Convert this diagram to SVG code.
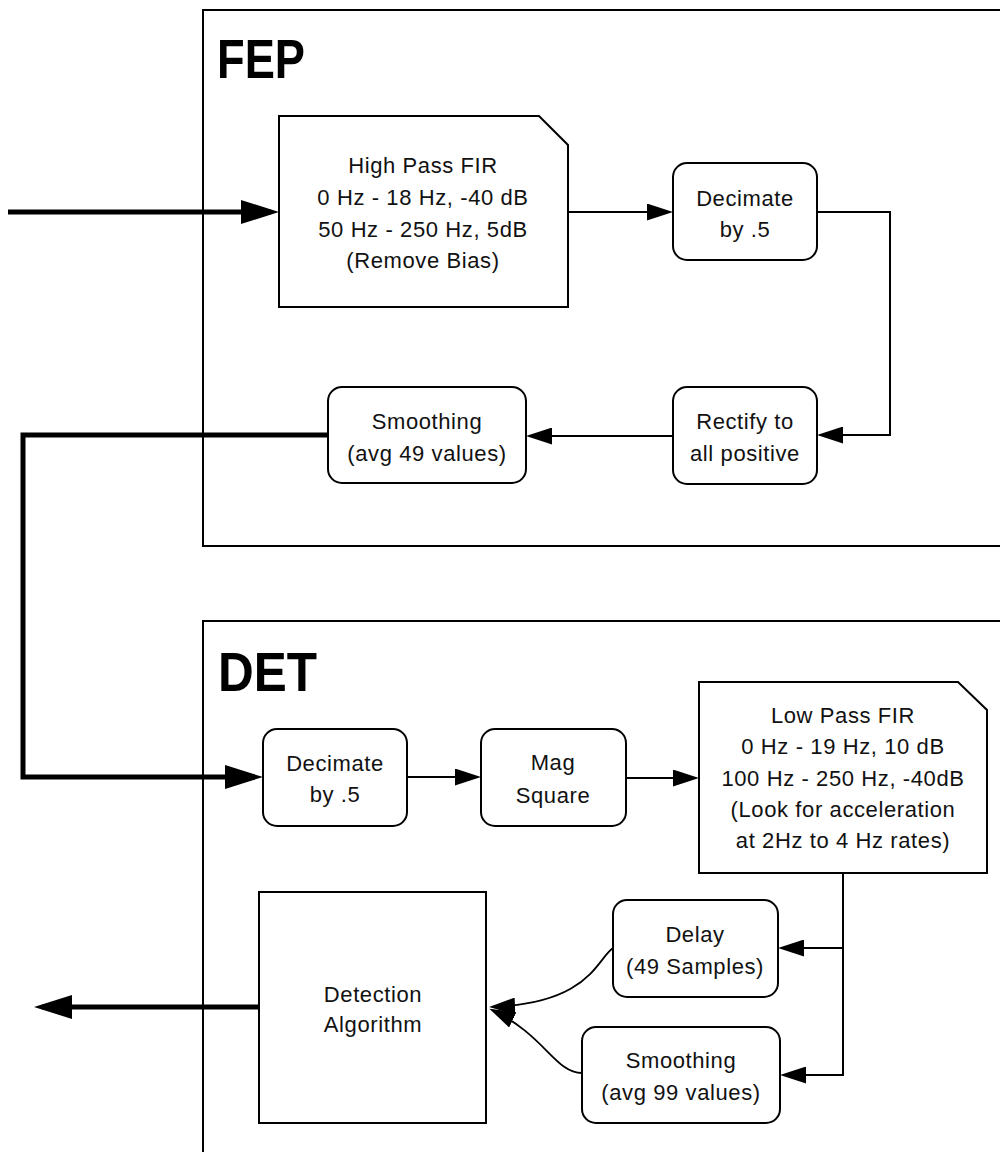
<svg xmlns="http://www.w3.org/2000/svg" width="1000" height="1152" viewBox="0 0 1000 1152">
<style>
.frame{fill:none;stroke:#000;stroke-width:2}
.box{fill:#fff;stroke:#000;stroke-width:2}
.t{font-family:"Liberation Sans",Arial,sans-serif;font-size:22px;letter-spacing:0.6px;text-anchor:middle;fill:#111}
.title{font-family:"Liberation Sans",Arial,sans-serif;font-size:56px;font-weight:bold;fill:#000}
.thin{fill:none;stroke:#000;stroke-width:2;marker-end:url(#ah)}
.thick{fill:none;stroke:#000;stroke-width:5;stroke-linejoin:miter;marker-end:url(#ahb)}
.curve{fill:none;stroke:#000;stroke-width:1.8;marker-end:url(#ah)}
</style>
<defs>
<marker id="ah" markerUnits="userSpaceOnUse" markerWidth="26" markerHeight="17" viewBox="0 0 26 17" refX="23" refY="8.5" orient="auto">
<path d="M0,0 L26,8.5 L0,17 z" fill="#000"/>
</marker>
<marker id="ahb" markerUnits="userSpaceOnUse" markerWidth="38" markerHeight="24" viewBox="0 0 38 24" refX="30" refY="12" orient="auto">
<path d="M0,0 L38,12 L0,24 z" fill="#000"/>
</marker>
</defs>
<rect fill="#fff" x="0" y="0" width="1000" height="1152"/>
<g id="fep">
<rect class="frame" x="203" y="10" width="900" height="536"/>
<text class="title" x="217" y="78" textLength="88" lengthAdjust="spacingAndGlyphs">FEP</text>
</g>
<g id="det">
<rect class="frame" x="203" y="621" width="900" height="600"/>
<text class="title" x="218" y="691" textLength="99" lengthAdjust="spacingAndGlyphs">DET</text>
</g>
<g id="connectors">
<path class="thick" d="M8,212 H271"/>
<path class="thin" d="M568,212 H670"/>
<path class="thin" d="M817,212 H890 V435 H820"/>
<path class="thin" d="M673,436 H529"/>
<path class="thick" d="M328,435 H23 V777 H255"/>
<path class="thin" d="M407,777 H478"/>
<path class="thin" d="M626,778 H696"/>
<path class="thin" d="M843,873 V1075 H783"/>
<path class="thin" d="M843,948 H781"/>
<path class="curve" d="M613,948 C596,960 590,1003 492,1007"/>
<path class="curve" d="M582,1073 C555,1073 545,1035 492,1010"/>
<path class="thick" d="M259,1007 H42"/>
</g>
<g id="hpf">
<path class="box" d="M279,116 H539 L568,145 V307 H279 Z"/>
<text class="t" x="423" y="173">High Pass FIR</text>
<text class="t" x="423" y="205">0 Hz - 18 Hz, -40 dB</text>
<text class="t" x="423" y="237">50 Hz - 250 Hz, 5dB</text>
<text class="t" x="423" y="268">(Remove Bias)</text>
</g>
<g id="decimate1">
<rect class="box" x="673" y="163" width="144" height="97" rx="14"/>
<text class="t" x="745" y="206">Decimate</text>
<text class="t" x="745" y="237">by .5</text>
</g>
<g id="rectify">
<rect class="box" x="673" y="387" width="144" height="97" rx="14"/>
<text class="t" x="745" y="429">Rectify to</text>
<text class="t" x="745" y="461">all positive</text>
</g>
<g id="smoothing49">
<rect class="box" x="328" y="387" width="198" height="96" rx="14"/>
<text class="t" x="427" y="429">Smoothing</text>
<text class="t" x="427" y="461">(avg 49 values)</text>
</g>
<g id="decimate2">
<rect class="box" x="263" y="729" width="144" height="97" rx="14"/>
<text class="t" x="335" y="771">Decimate</text>
<text class="t" x="335" y="802">by .5</text>
</g>
<g id="magsquare">
<rect class="box" x="481" y="729" width="145" height="97" rx="14"/>
<text class="t" x="553" y="770">Mag</text>
<text class="t" x="553" y="803">Square</text>
</g>
<g id="lpf">
<path class="box" d="M699,682 H958 L987,710 V873 H699 Z"/>
<text class="t" x="843" y="723">Low Pass FIR</text>
<text class="t" x="843" y="754">0 Hz - 19 Hz, 10 dB</text>
<text class="t" x="843" y="786">100 Hz - 250 Hz, -40dB</text>
<text class="t" x="843" y="817">(Look for acceleration</text>
<text class="t" x="843" y="848">at 2Hz to 4 Hz rates)</text>
</g>
<g id="delay">
<rect class="box" x="613" y="900" width="165" height="97" rx="14"/>
<text class="t" x="695" y="942">Delay</text>
<text class="t" x="695" y="974">(49 Samples)</text>
</g>
<g id="smoothing99">
<rect class="box" x="582" y="1027" width="198" height="96" rx="14"/>
<text class="t" x="681" y="1068">Smoothing</text>
<text class="t" x="681" y="1100">(avg 99 values)</text>
</g>
<g id="detection">
<rect class="box" x="259" y="892" width="227" height="231"/>
<text class="t" x="373" y="1002">Detection</text>
<text class="t" x="373" y="1032">Algorithm</text>
</g>
</svg>
